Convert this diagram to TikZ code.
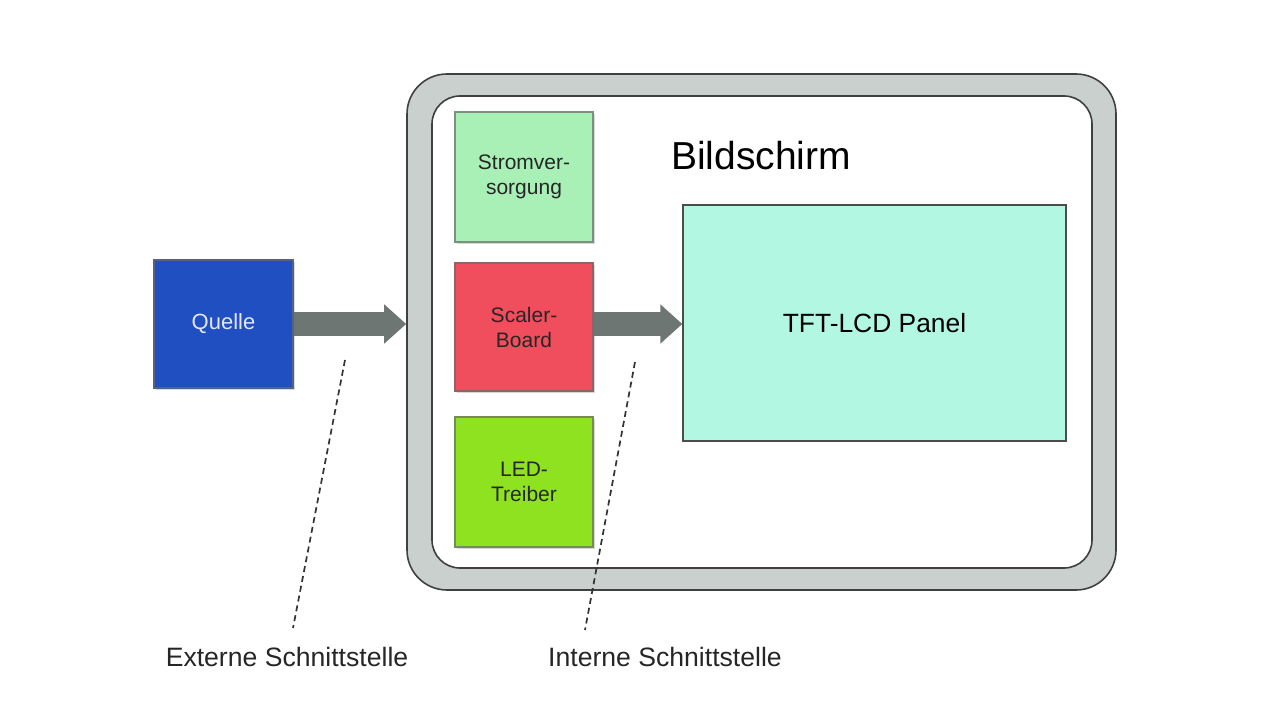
\documentclass[tikz,border=0pt]{standalone}
\usepackage{fontspec}
\setmainfont{Liberation Sans}
\usetikzlibrary{arrows.meta,shadows}
\definecolor{quelleblue}{HTML}{1F4FC0}
\definecolor{stromgreen}{HTML}{A9F0B6}
\definecolor{scalerred}{HTML}{F04E5C}
\definecolor{ledgreen}{HTML}{8FE220}
\definecolor{panelcyan}{HTML}{B2F7E1}
\definecolor{framegray}{HTML}{C9D0CD}
\definecolor{arrowgray}{HTML}{6E7673}
\tikzset{
  block/.style={draw=#1!40!black!70, fill=#1, line width=0.6pt,
    minimum width=69pt, minimum height=65pt, align=center,
    font=\fontsize{10.5}{12.5}\selectfont, text=black!85,
    drop shadow={opacity=0.3, shadow xshift=1pt, shadow yshift=-1pt}},
  bigarrow/.style={arrowgray, line width=12pt,
    -{Triangle[length=11pt, width=19pt]}},
  cutline/.style={line width=0.85pt, dash pattern=on 3pt off 2pt, black!80},
  caption/.style={font=\fontsize{13.3}{15}\selectfont, text=black!85}
}
\begin{document}
\begin{tikzpicture}[x=0.5pt,y=-0.5pt]
\useasboundingbox (0,0) rectangle (1280,721);
% Bildschirm frame
\node [draw=black!75, fill=framegray, line width=0.8pt, rounded corners=20pt,
  minimum width=354.5pt, minimum height=258pt] (frame) at (761.5,332) {};
\node [draw=black!75, fill=white, line width=0.8pt, rounded corners=14pt,
  minimum width=330pt, minimum height=236pt] (screen) at (762,332) {};
\node [font=\fontsize{19.5}{22}\selectfont] (title) at (761,156) {Bildschirm};
% blocks
\node [block=quelleblue, text=white!90!blue, font=\fontsize{11}{13}\selectfont,
  minimum width=69.5pt, minimum height=64pt] (quelle) at (223.5,324) {Quelle};
\node [block=stromgreen] (strom) at (524,177) {Stromver-\\sorgung};
\node [block=scalerred, minimum height=64pt] (scaler) at (524,327) {Scaler-\\Board};
\node [block=ledgreen] (led) at (524,482) {LED-\\Treiber};
\node [draw=black!70, fill=panelcyan, line width=0.7pt, minimum width=191.5pt,
  minimum height=118pt, font=\fontsize{13.2}{15}\selectfont] (panel) at (874.5,323)
  {TFT-LCD Panel};
% interfaces
\draw [bigarrow] (quelle.east |- 0,324) -- (frame.west |- 0,324);
\draw [bigarrow] (scaler.east |- 0,324) -- (panel.west |- 0,324);
\node [caption] (ext) at (287,657) {Externe Schnittstelle};
\node [caption] (int) at (665,657) {Interne Schnittstelle};
\coordinate (ext top) at (345,360);
\coordinate (ext end) at (293,628);
\coordinate (int top) at (635,362);
\coordinate (int end) at (585,630);
\draw [cutline] (ext top) -- (ext end);
\draw [cutline] (int top) -- (int end);
\end{tikzpicture}
\end{document}
